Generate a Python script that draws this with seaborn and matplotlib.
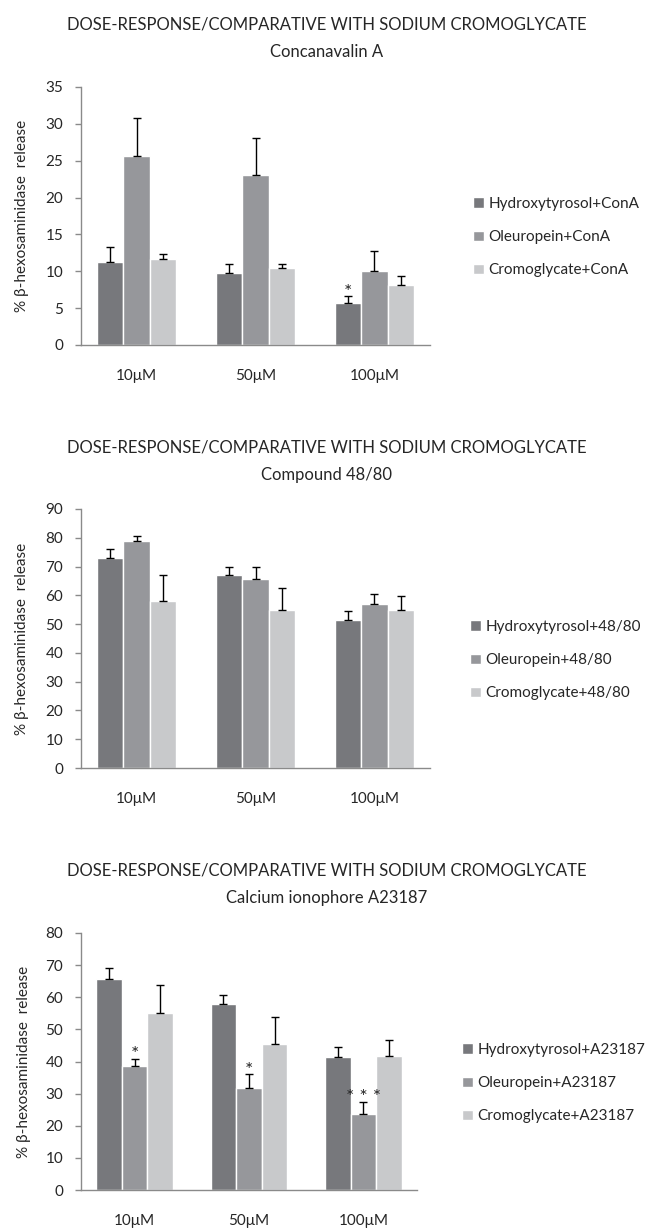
import pandas as pd
import matplotlib
matplotlib.use('Agg')
import matplotlib.pyplot as plt
import seaborn as sns

# doses on the x axis
doses = ['10μM', '50μM', '100μM']
compounds = ['Hydroxytyrosol', 'Oleuropein', 'Cromoglycate']

# Concanavalin A
cona_means = [[11.2, 9.7, 5.7], [25.6, 23.1, 10.1], [11.7, 10.5, 8.2]]
cona_errs = [[2.1, 1.3, 0.9], [5.2, 5.0, 2.7], [0.7, 0.5, 1.1]]
cona_stars = [['', '', '*'], ['', '', ''], ['', '', '']]

# Compound 48/80
c4880_means = [[72.8, 66.9, 51.5], [78.9, 65.7, 56.9], [58.0, 54.9, 54.9]]
c4880_errs = [[3.4, 2.8, 3.2], [1.6, 4.0, 3.7], [9.2, 7.8, 4.7]]
c4880_stars = [['', '', ''], ['', '', ''], ['', '', '']]

# Calcium ionophore A23187
a23_means = [[65.7, 57.8, 41.3], [38.7, 31.7, 23.6], [55.1, 45.4, 41.8]]
a23_errs = [[3.4, 3.0, 3.1], [2.1, 4.3, 3.9], [8.8, 8.3, 4.8]]
a23_stars = [['', '', ''], ['*', '*', '* * *'], ['', '', '']]

colors = ['#77787c', '#96979b', '#c8c9cb']
header = 'DOSE-RESPONSE/COMPARATIVE WITH SODIUM CROMOGLYCATE'

sns.set_style('white')
plt.rcParams['font.family'] = ['Lato', 'DejaVu Sans']
text_color = '#262626'
axis_color = '#8a8a8a'

W, H = 653, 1229
fig = plt.figure(figsize=(W / 100, H / 100), dpi=100)


def panel(rect, subtitle, agent, means, errs, stars, ymax, ystep, title_y, leg_xy):
    ax = fig.add_axes(rect)
    df = pd.DataFrame({
        'dose': [d for _ in compounds for d in doses],
        'group': [c + '+' + agent for c in compounds for _ in doses],
        'value': [v for row in means for v in row],
    })
    sns.barplot(data=df, x='dose', y='value', hue='group', order=doses,
                palette=colors, errorbar=None, width=0.67, gap=0,
                saturation=1, ax=ax)

    # one-sided error bars and significance marks
    for cont, err, st in zip(ax.containers, errs, stars):
        for bar, e, s in zip(cont, err, st):
            x = bar.get_x() + bar.get_width() / 2
            y = bar.get_height()
            ax.errorbar(x, y, yerr=[[0], [e]], fmt='none', ecolor='black',
                        elinewidth=1, capsize=2.6, capthick=1, zorder=3)
            if s:
                ax.annotate(s, (x, y + e), xytext=(0, -3), textcoords='offset points',
                            ha='center', va='bottom', fontsize=14, color=text_color)

    ax.set_ylim(0, ymax)
    ax.set_yticks(range(0, ymax + 1, ystep))
    ax.set_xlabel('')
    ax.set_ylabel('% β-hexosaminidase  release', fontsize=11, color=text_color)
    ax.yaxis.set_label_coords(-0.15, 0.5)
    sns.despine(ax=ax)
    for sp in ['left', 'bottom']:
        ax.spines[sp].set_color(axis_color)
        ax.spines[sp].set_linewidth(1)
    ax.tick_params(axis='y', length=4.3, width=1, color=axis_color, labelsize=11,
                   labelcolor=text_color, left=True, pad=8.5)
    ax.tick_params(axis='x', length=0, pad=17, labelsize=11, labelcolor=text_color)

    h, l = ax.get_legend_handles_labels()
    ax.legend(h, l, loc='center left', bbox_to_anchor=leg_xy,
              bbox_transform=fig.transFigure, frameon=False, fontsize=11,
              handlelength=0.75, handleheight=0.65, handletextpad=0.3,
              labelspacing=1.25, borderpad=0, labelcolor=text_color)

    fig.text(0.5, 1 - title_y / H, header, ha='center', va='center',
             fontsize=12, color=text_color)
    fig.text(0.5, 1 - (title_y + 28) / H, subtitle, ha='center', va='center',
             fontsize=12, color=text_color)
    return ax


panel([81 / W, 1 - 345 / H, 349 / W, 258 / H], 'Concanavalin A', 'ConA',
      cona_means, cona_errs, cona_stars, 35, 5, 24, (465 / W, 1 - 237 / H))
panel([81 / W, 1 - 768 / H, 349 / W, 259 / H], 'Compound 48/80', '48/80',
      c4880_means, c4880_errs, c4880_stars, 90, 10, 447, (462 / W, 1 - 660 / H))
panel([81 / W, 1 - 1190 / H, 336 / W, 257 / H], 'Calcium ionophore A23187', 'A23187',
      a23_means, a23_errs, a23_stars, 80, 10, 870, (454 / W, 1 - 1083 / H))

fig.savefig('out.png', dpi=100)
